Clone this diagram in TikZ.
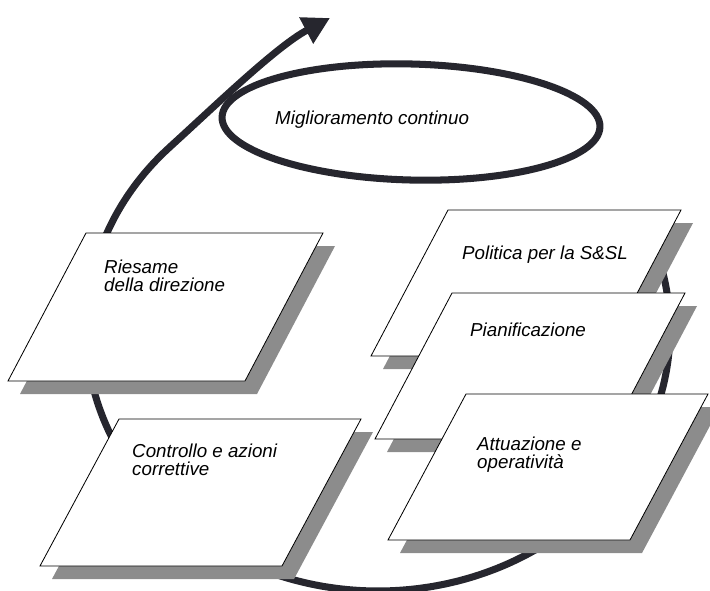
\documentclass[tikz,border=0pt]{standalone}
\usepackage{fontspec}
\setmainfont{Liberation Sans}
\usetikzlibrary{arrows.meta,shapes.geometric}
\definecolor{loopink}{RGB}{38,38,46}

\begin{document}
\begin{tikzpicture}[x=0.03cm, y=-0.03cm, > = {Triangle[length=23pt,width=24pt]}, cycleline/.style = {line width=6pt, draw=loopink, ->}, ring/.style = {draw=loopink, line width=6pt, ellipse, inner sep=0pt, minimum width=11.34cm, minimum height=3.48cm}, card/.style = {draw=black, line width=0.7pt, fill=white}, cardshade/.style = {fill=black!45, shift={(12,13)}}, cardtext/.style = {anchor=north west, inner sep=0pt, align=left, font=\itshape\fontsize{16}{15.5}\selectfont}]

    \useasboundingbox (0,0) rectangle (710,590);

    % improvement cycle
    \draw[cycleline] plot[domain=-15:225, samples=90, smooth] ({378+292*cos(\x)}, {330+261*sin(\x)}) .. controls (216,105) and (277,46) .. (330,18) coordinate (tip);
    \node[ring, rotate=-1.5] (improve) at (411,122) {};
    \node[cardtext] (improvetext) at (275,111) {Miglioramento continuo};

    % left cards
    \fill[cardshade] (86,233) -- (323,233) -- (245,381) -- (8,381) -- cycle;
    \draw[card] (86,233) -- (323,233) -- (245,381) -- (8,381) -- cycle;
    \node[cardtext] (review) at (104,260) {Riesame\\della direzione};

    \fill[cardshade] (119,419) -- (361,419) -- (282,566) -- (40,566) -- cycle;
    \draw[card] (119,419) -- (361,419) -- (282,566) -- (40,566) -- cycle;
    \node[cardtext] (check) at (132,444) {Controllo e azioni\\correttive};

    % right cards
    \fill[cardshade] (448,210) -- (681,210) -- (604,356) -- (371,356) -- cycle;
    \draw[card] (448,210) -- (681,210) -- (604,356) -- (371,356) -- cycle;
    \node[cardtext] (policy) at (462,246) {Politica per la S\&SL};

    \fill[cardshade] (452,293) -- (685,293) -- (608,439) -- (375,439) -- cycle;
    \draw[card] (452,293) -- (685,293) -- (608,439) -- (375,439) -- cycle;
    \node[cardtext] (plan) at (470,323) {Pianificazione};

    \fill[cardshade] (466,394) -- (708,394) -- (630,540) -- (388,540) -- cycle;
    \draw[card] (466,394) -- (708,394) -- (630,540) -- (388,540) -- cycle;
    \node[cardtext] (act) at (477,437) {Attuazione e\\operatività};

\end{tikzpicture}
\end{document}
